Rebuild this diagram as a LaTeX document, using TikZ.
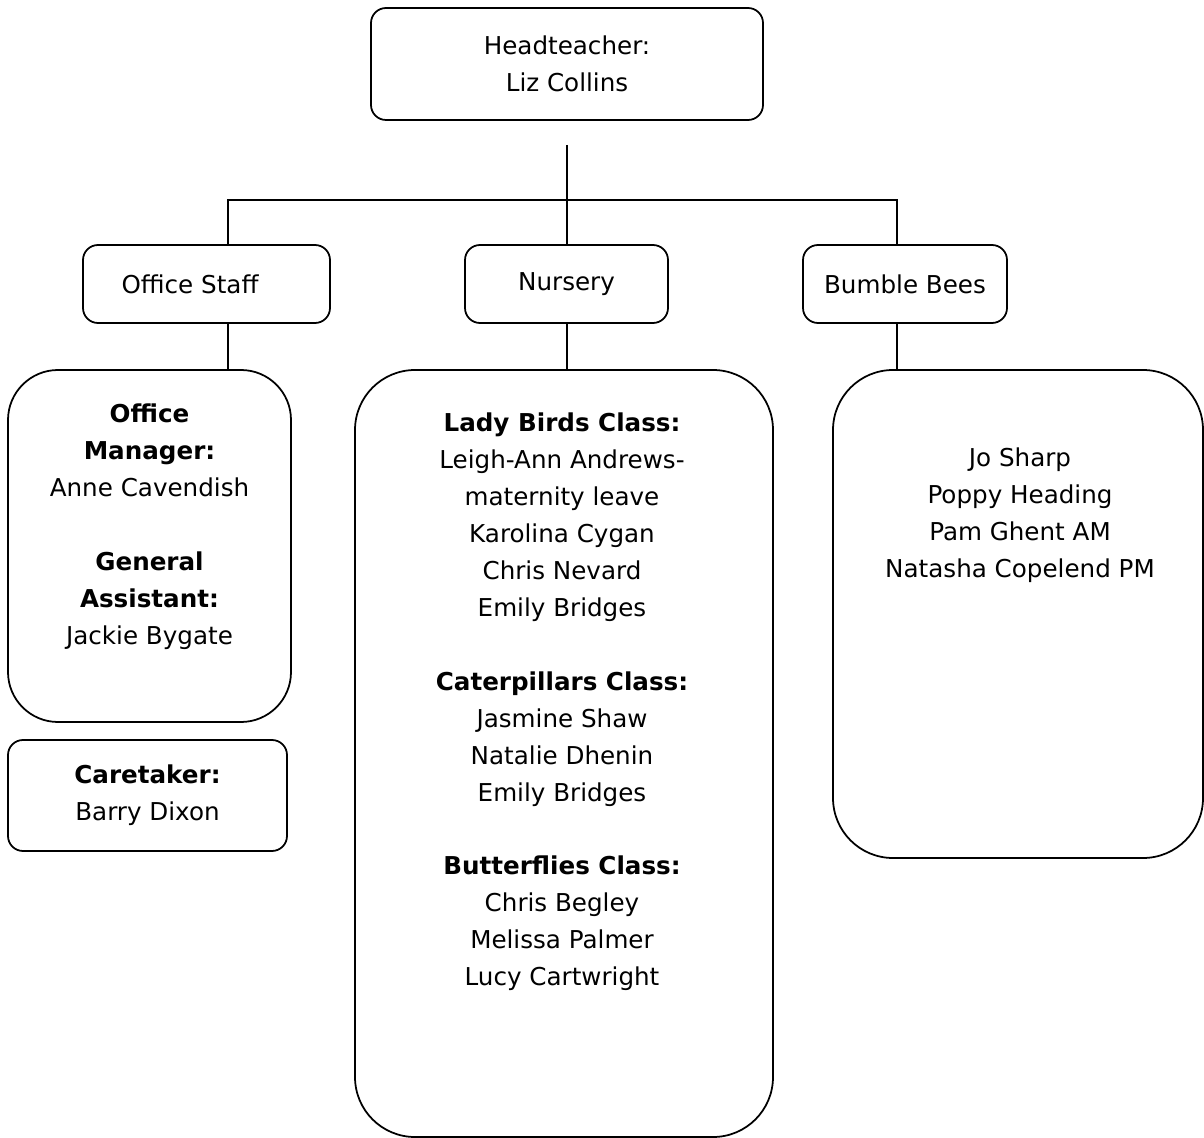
\documentclass[tikz,border=0pt]{standalone}
\usepackage{fontspec}
\setmainfont{DejaVu Sans}
\newcommand{\namefont}{\fontsize{14}{21}\selectfont}
\tikzset{
	smallbox/.style={draw,line width=1pt,rounded corners=0.3cm,align=center,inner sep=0pt,font=\namefont},
	bigbox/.style={draw,line width=1pt,rounded corners=1.2cm,inner sep=0pt},
	names/.style={align=center,inner sep=0pt,font=\namefont},
	wire/.style={line width=1pt},
}

\begin{document}
\begin{tikzpicture}[y=-1cm]
		\useasboundingbox (0,0) rectangle (24.08,22.76);
		
		% Head of the school
		\node[smallbox,minimum width=7.84cm,minimum height=2.24cm] (head) at (11.34,1.28) {Headteacher:\\Liz Collins};
		
		% The three departments
		\node[smallbox,minimum width=4.94cm,minimum height=1.56cm] (staff) at (4.13,5.68) {Office Staff\hspace{0.66cm}};
		\node[smallbox,minimum width=4.06cm,minimum height=1.56cm] (nursery) at (11.33,5.68) {Nursery};
		\node[smallbox,minimum width=4.08cm,minimum height=1.56cm] (bees) at (18.1,5.68) {Bumble Bees};
		
		% Big boxes with the people in them
		\node[bigbox,rounded corners=1cm,minimum width=5.66cm,minimum height=7.04cm] (officebox) at (2.99,10.92) {};
		\node[bigbox,minimum width=8.36cm,minimum height=15.34cm] (classes) at (11.28,15.07) {};
		\node[bigbox,minimum width=7.4cm,minimum height=9.76cm] (beesbox) at (20.36,12.28) {};
		\node[smallbox,minimum width=5.58cm,minimum height=2.22cm] (caretaker) at (2.95,15.91) {\textbf{Caretaker:}\\Barry Dixon};
		
		\node[names] (officenames) at ([yshift=0.39cm]officebox.center)
		{\textbf{Office}\\\textbf{Manager:}\\Anne Cavendish\\[0.74cm]
			\textbf{General}\\\textbf{Assistant:}\\Jackie Bygate};
		\node[names] (classnames) at ([xshift=-0.04cm,yshift=1.03cm]classes.center)
		{\textbf{Lady Birds Class:}\\Leigh-Ann Andrews-\\maternity leave\\Karolina Cygan\\Chris Nevard\\Emily Bridges\\[0.74cm]
			\textbf{Caterpillars Class:}\\Jasmine Shaw\\Natalie Dhenin\\Emily Bridges\\[0.74cm]
			\textbf{Butterflies Class:}\\Chris Begley\\Melissa Palmer\\Lucy Cartwright};
		\node[names] (beesnames) at ([xshift=0.04cm,yshift=1.98cm]beesbox.center)
		{Jo Sharp\\Poppy Heading\\Pam Ghent AM\\Natasha Copelend PM};
		
		% Tree lines
		\coordinate (stem) at (11.34,2.9);
		\coordinate (left) at (4.56,4.0);
		\coordinate (right) at (17.94,4.0);
		\draw[wire] (stem) -- (nursery.north -| stem);
		\draw[wire] (staff.north -| left) -- (left) -- (right) -- (bees.north -| right);
		\draw[wire] (staff.south -| left) -- (officebox.north -| left);
		\draw[wire] (nursery.south -| stem) -- (classes.north -| stem);
		\draw[wire] (bees.south -| right) -- (beesbox.north -| right);
	\end{tikzpicture}
\end{document}
